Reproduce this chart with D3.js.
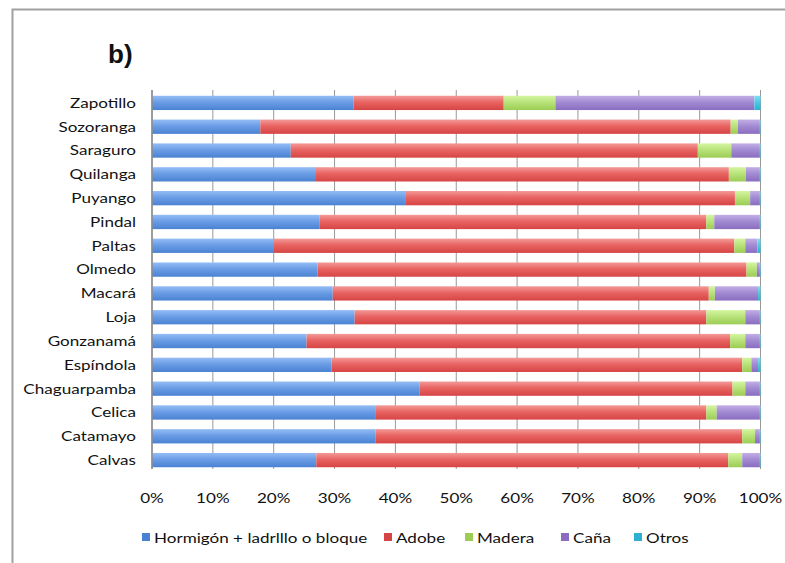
<!DOCTYPE html>
<html>
<head>
  <meta charset="utf-8">
  <script src="https://d3js.org/d3.v7.min.js"></script>
  <style>
    body { margin: 0; background: #fff; }
    text { font-family: Lato, "Open Sans", sans-serif; fill: #111; font-size: 14px; }
  </style>
</head>
<body>
  <svg id="chart" width="785" height="563"></svg>
  <script>
    // categories, top to bottom
    const cantones = ["Zapotillo", "Sozoranga", "Saraguro", "Quilanga", "Puyango", "Pindal", "Paltas",
                      "Olmedo", "Macará", "Loja", "Gonzanamá", "Espíndola", "Chaguarpamba", "Celica",
                      "Catamayo", "Calvas"];
    const seriesNames = ["Hormigón + ladrlllo o bloque", "Adobe", "Madera", "Caña", "Otros"];
    // percentages per series, same order as cantones
    const hormigon = [33.1, 17.8, 22.8, 26.8, 41.6, 27.5, 20.0, 27.2, 29.7, 33.3, 25.4, 29.5, 44.0, 36.8, 36.7, 27.0];
    const adobe    = [24.7, 77.3, 66.9, 68.0, 54.2, 63.6, 75.7, 70.5, 61.8, 57.8, 69.6, 67.5, 51.4, 54.3, 60.3, 67.7];
    const madera   = [ 8.5,  1.2,  5.5,  2.8,  2.5,  1.3,  1.8,  1.7,  1.0,  6.4,  2.5,  1.5,  2.1,  1.7,  2.1,  2.3];
    const cana     = [32.7,  3.6,  4.7,  2.3,  1.6,  7.5,  2.0,  0.5,  7.1,  2.4,  2.4,  1.1,  2.4,  7.1,  0.8,  2.9];
    const otros    = [ 1.0,  0.1,  0.1,  0.1,  0.1,  0.1,  0.5,  0.1,  0.4,  0.1,  0.1,  0.4,  0.1,  0.1,  0.1,  0.1];
    const xTicks = [0, 10, 20, 30, 40, 50, 60, 70, 80, 90, 100];

    const seriesValues = [hormigon, adobe, madera, cana, otros];
    // gradient stops: light top, dark bottom
    const colors = [
      ["#94bdf5", "#6b9de6", "#4a82d2"],
      ["#f39a98", "#e86462", "#d64545"],
      ["#d4f5a0", "#b8e37a", "#9ccc55"],
      ["#c3aee6", "#a38bd3", "#8a6dbf"],
      ["#7fe0f2", "#4cc9e6", "#2db0d2"]
    ];
    const legendColors = ["#4a82d2", "#d64545", "#9ccc55", "#8a6dbf", "#2db0d2"];

    const data = cantones.map((c, i) => {
      const row = { canton: c };
      seriesNames.forEach((s, j) => row[s] = seriesValues[j][i]);
      return row;
    });

    const svg = d3.select("#chart");
    const margin = { top: 91, left: 152, right: 23, bottom: 91 };
    const width = 785, height = 563;
    const stretch = 1.22; // reference text is wide (stretched Calibri)

    // chart border (top and left visible)
    svg.append("path").attr("d", "M12.5,563 L12.5,9.5 L785,9.5")
       .attr("fill", "none").attr("stroke", "#a0a0a0").attr("stroke-width", 2);

    svg.append("text").attr("x", 108).attr("y", 63)
       .style("font-family", "'Liberation Sans', Arial, sans-serif")
       .style("font-weight", "bold").style("font-size", "26px").text("b)");

    const defs = svg.append("defs");
    colors.forEach((c, i) => {
      const g = defs.append("linearGradient").attr("id", "grad" + i)
                    .attr("x1", 0).attr("y1", 0).attr("x2", 0).attr("y2", 1);
      g.append("stop").attr("offset", "0%").attr("stop-color", c[0]);
      g.append("stop").attr("offset", "45%").attr("stop-color", c[1]);
      g.append("stop").attr("offset", "100%").attr("stop-color", c[2]);
    });

    const xScale = d3.scaleLinear().domain([0, 100]).range([margin.left, width - margin.right - 1.5]);
    const yScale = d3.scaleBand().domain(cantones).range([margin.top, height - margin.bottom]).paddingInner(0.4).paddingOuter(0.2);

    // gridlines
    svg.append("g").selectAll("line").data(xTicks).join("line")
       .attr("x1", d => xScale(d)).attr("x2", d => xScale(d))
       .attr("y1", 90).attr("y2", 469)
       .attr("stroke", "#999").attr("stroke-width", 1);

    const stacked = d3.stack().keys(seriesNames)(data);

    svg.append("g").selectAll("g").data(stacked).join("g")
       .attr("fill", (d, i) => "url(#grad" + i + ")")
       .selectAll("rect").data(d => d).join("rect")
       .attr("x", d => xScale(d[0]))
       .attr("y", d => yScale(d.data.canton))
       .attr("width", d => Math.max(0, xScale(d[1]) - xScale(d[0])))
       .attr("height", yScale.bandwidth());

    // left axis line
    svg.append("line").attr("x1", margin.left).attr("x2", margin.left)
       .attr("y1", 90).attr("y2", 469).attr("stroke", "#8c8c8c").attr("stroke-width", 1.5);

    // category labels
    svg.append("g").selectAll("text").data(cantones).join("text")
       .attr("transform", d => "translate(136," + (yScale(d) + yScale.bandwidth() / 2) + ") scale(" + stretch + ",1)")
       .attr("dy", "0.35em").attr("text-anchor", "end").text(d => d);

    // x tick labels
    svg.append("g").selectAll("text").data(xTicks).join("text")
       .attr("transform", d => "translate(" + xScale(d) + ",498) scale(" + stretch + ",1)")
       .attr("dy", "0.35em").attr("text-anchor", "middle").text(d => d + "%");

    // legend
    const legendX = [142, 384, 465, 561, 634];
    const legend = svg.append("g").selectAll("g").data(seriesNames).join("g")
       .attr("transform", (d, i) => "translate(" + legendX[i] + ",538)");
    legend.append("rect").attr("x", 0).attr("y", -5).attr("width", 8).attr("height", 8)
          .attr("fill", (d, i) => legendColors[i]);
    legend.append("text").attr("transform", "translate(12,0) scale(" + stretch + ",1)")
          .attr("dy", "0.35em").text(d => d);
  </script>
</body>
</html>
